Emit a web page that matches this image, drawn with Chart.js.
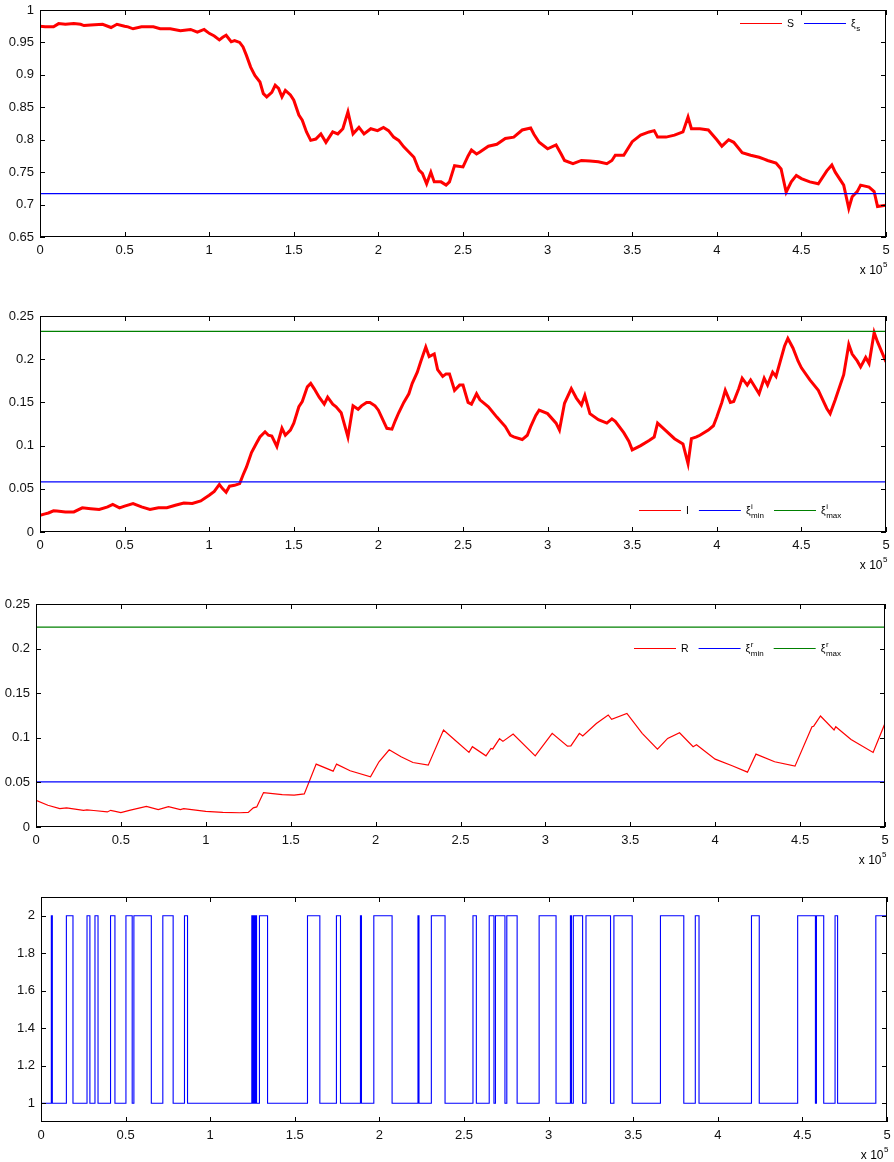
<!DOCTYPE html>
<html>
<head>
<meta charset="utf-8">
<title>SIR regime-switching simulation</title>
<script src="https://cdn.jsdelivr.net/npm/chart.js@4.4.1/dist/chart.umd.min.js"></script>
<style>
  html, body { margin: 0; padding: 0; background: #fff; }
  #page { position: relative; width: 894px; height: 1162px; overflow: hidden; }
  .panel { position: absolute; left: 0; width: 894px; }
  canvas { display: block; }
</style>
</head>
<body>
<div id="page">
  <div class="panel" style="top:0px;height:290px"><canvas id="cS" width="894" height="290"></canvas></div>
  <div class="panel" style="top:290px;height:290px"><canvas id="cI" width="894" height="290"></canvas></div>
  <div class="panel" style="top:580px;height:290px"><canvas id="cR" width="894" height="290"></canvas></div>
  <div class="panel" style="top:870px;height:292px"><canvas id="cM" width="894" height="292"></canvas></div>
</div>
<script>
// ---- time axis (units of 10^5) ----
const xTicks = [0, 0.5, 1, 1.5, 2, 2.5, 3, 3.5, 4, 4.5, 5];

// ---- susceptible fraction S ----
const sTime = [0,0.03,0.08,0.11,0.15,0.2,0.24,0.26,0.3,0.37,0.42,0.455,0.5,0.52,0.55,0.6,0.67,0.71,0.77,0.83,0.89,0.93,0.97,1.0,
  1.03,1.06,1.08,1.1,1.13,1.15,1.18,1.2,1.22,1.245,1.27,1.3,1.32,1.34,1.37,1.39,1.41,1.43,1.45,1.48,1.5,1.53,1.55,1.575,1.6,1.63,
  1.66,1.69,1.73,1.76,1.79,1.82,1.85,1.885,1.915,1.955,1.995,2.03,2.06,2.09,2.12,2.15,2.18,2.21,2.24,2.26,2.285,2.31,2.33,2.37,2.4,
  2.42,2.45,2.5,2.53,2.55,2.58,2.6,2.65,2.7,2.75,2.8,2.85,2.9,2.92,2.95,3.0,3.05,3.08,3.1,3.15,3.2,3.25,3.3,3.35,3.38,3.4,3.45,
  3.5,3.55,3.6,3.63,3.65,3.7,3.75,3.8,3.83,3.85,3.9,3.95,4.0,4.03,4.07,4.1,4.15,4.2,4.25,4.28,4.3,4.35,4.38,4.41,4.44,4.47,4.5,
  4.55,4.6,4.65,4.68,4.7,4.75,4.78,4.8,4.83,4.85,4.9,4.93,4.95,5.0];
const sValues = [0.975,0.974,0.974,0.979,0.978,0.979,0.978,0.976,0.977,0.978,0.973,0.978,0.975,0.974,0.971,0.974,0.974,0.971,0.971,0.968,0.970,0.966,0.970,0.964,
  0.960,0.954,0.958,0.961,0.951,0.953,0.950,0.943,0.930,0.912,0.899,0.889,0.871,0.866,0.873,0.884,0.879,0.866,0.876,0.869,0.861,0.838,0.830,0.812,0.799,0.801,
  0.809,0.796,0.812,0.809,0.817,0.843,0.809,0.819,0.809,0.817,0.814,0.819,0.814,0.804,0.799,0.789,0.781,0.773,0.753,0.748,0.732,0.750,0.735,0.735,0.730,
  0.735,0.760,0.758,0.775,0.784,0.778,0.781,0.790,0.793,0.802,0.804,0.815,0.818,0.808,0.796,0.786,0.792,0.778,0.768,0.763,0.768,0.767,0.766,0.763,0.768,0.776,0.776,
  0.797,0.807,0.812,0.814,0.804,0.804,0.807,0.812,0.835,0.817,0.817,0.815,0.800,0.790,0.800,0.796,0.780,0.776,0.773,0.770,0.768,0.764,0.755,0.719,0.735,0.745,0.740,
  0.735,0.732,0.752,0.761,0.750,0.730,0.694,0.712,0.720,0.730,0.727,0.720,0.697,0.699];
const xiS = 0.717;
const sTicks = [0.65, 0.7, 0.75, 0.8, 0.85, 0.9, 0.95, 1];

// ---- infected fraction I ----
const iTime = [0,0.03,0.05,0.08,0.1,0.15,0.2,0.25,0.3,0.35,0.4,0.43,0.47,0.5,0.55,0.6,0.65,0.7,0.75,0.8,0.85,0.9,0.95,1.0,
  1.03,1.06,1.08,1.1,1.12,1.15,1.18,1.2,1.22,1.25,1.28,1.3,1.33,1.35,1.37,1.4,1.43,1.45,1.48,1.5,1.53,1.55,1.58,1.6,1.62,1.65,
  1.68,1.7,1.73,1.75,1.78,1.8,1.82,1.85,1.88,1.9,1.93,1.95,1.98,2.0,2.05,2.08,2.1,2.12,2.15,2.18,2.2,2.23,2.25,2.28,2.3,2.33,
  2.35,2.38,2.4,2.42,2.45,2.48,2.5,2.53,2.55,2.58,2.6,2.65,2.7,2.75,2.78,2.8,2.85,2.88,2.9,2.93,2.95,3.0,3.05,3.07,3.1,3.14,
  3.17,3.2,3.22,3.25,3.3,3.35,3.38,3.4,3.45,3.48,3.5,3.53,3.55,3.6,3.63,3.65,3.7,3.75,3.8,3.83,3.85,3.88,3.9,3.95,3.98,4.0,
  4.03,4.05,4.08,4.1,4.13,4.15,4.18,4.2,4.25,4.28,4.3,4.33,4.35,4.4,4.42,4.45,4.48,4.5,4.55,4.6,4.65,4.67,4.7,4.75,4.78,4.8,
  4.83,4.85,4.88,4.9,4.93,4.95,5.0];
const iValues = [0.0193,0.021,0.022,0.0245,0.0243,0.0232,0.0232,0.028,0.027,0.026,0.029,0.032,0.028,0.030,0.033,0.029,0.026,0.028,0.028,0.031,0.0336,0.033,0.036,0.0425,
  0.047,0.055,0.050,0.046,0.053,0.054,0.056,0.066,0.075,0.092,0.103,0.110,0.116,0.112,0.111,0.099,0.120,0.112,0.118,0.126,0.145,0.151,0.168,0.172,0.166,0.156,
  0.148,0.156,0.148,0.145,0.138,0.124,0.110,0.146,0.142,0.146,0.150,0.150,0.146,0.141,0.120,0.119,0.129,0.138,0.150,0.160,0.172,0.185,0.197,0.214,0.203,0.206,
  0.188,0.180,0.183,0.183,0.164,0.170,0.170,0.150,0.148,0.160,0.153,0.145,0.133,0.122,0.112,0.110,0.107,0.112,0.122,0.135,0.141,0.137,0.126,0.118,0.149,0.166,
  0.155,0.147,0.158,0.137,0.130,0.126,0.131,0.128,0.115,0.105,0.095,0.098,0.100,0.106,0.110,0.126,0.117,0.108,0.102,0.079,0.108,0.110,0.112,0.118,0.123,0.133,
  0.150,0.164,0.150,0.151,0.166,0.178,0.170,0.176,0.160,0.178,0.170,0.185,0.180,0.215,0.224,0.213,0.198,0.190,0.176,0.164,0.143,0.137,0.153,0.182,0.217,0.206,
  0.198,0.191,0.202,0.195,0.231,0.220,0.197];
const xiIMin = 0.058;
const xiIMax = 0.2322;
const iTicks = [0, 0.05, 0.1, 0.15, 0.2, 0.25];

// ---- recovered fraction R ----
const rTime = [0,0.07,0.14,0.18,0.28,0.3,0.34,0.42,0.44,0.5,0.55,0.65,0.72,0.78,0.85,0.87,1.0,1.1,1.2,1.25,1.28,1.3,1.34,1.45,1.52,1.58,
  1.65,1.75,1.77,1.85,1.97,2.02,2.08,2.15,2.22,2.31,2.4,2.47,2.55,2.57,2.65,2.68,2.69,2.73,2.75,2.81,2.94,3.04,3.13,3.15,3.2,3.22,
  3.3,3.37,3.39,3.48,3.57,3.66,3.72,3.79,3.87,3.89,4.0,4.1,4.19,4.24,4.35,4.47,4.57,4.58,4.62,4.7,4.71,4.8,4.93,5.0];
const rValues = [0.030,0.0244,0.0206,0.0214,0.0187,0.0192,0.0185,0.0169,0.0187,0.0161,0.0187,0.0232,0.0195,0.0229,0.0195,0.0206,0.0176,0.0163,0.0160,0.0163,0.0214,0.0225,0.0386,0.0364,0.0358,0.0371,
  0.0705,0.0626,0.0705,0.0630,0.0562,0.0731,0.0866,0.0787,0.0723,0.0693,0.1087,0.0970,0.0836,0.0900,0.0798,0.0881,0.0875,0.0990,0.0960,0.1042,0.0798,0.1050,0.0907,0.0910,0.1050,0.1020,
  0.1160,0.1256,0.1207,0.1274,0.1050,0.0873,0.0993,0.1057,0.0900,0.0922,0.0761,0.0686,0.0615,0.0817,0.0731,0.0682,0.1124,0.1130,0.1244,0.1087,0.1124,0.0982,0.0836,0.1162];
const xiRMin = 0.0506;
const xiRMax = 0.2241;
const rTicks = [0, 0.05, 0.1, 0.15, 0.2, 0.25];

// ---- Markov regime (state switches at the listed times) ----
const regimeTimes = [0,0.061,0.067,0.150,0.189,0.272,0.289,0.319,0.337,0.411,0.437,0.502,0.539,0.549,0.652,0.720,0.781,0.848,0.866,
  1.246,1.252,1.258,1.262,1.268,1.274,1.291,1.339,1.575,1.648,1.746,1.770,1.888,1.894,1.967,2.075,2.228,2.234,2.307,2.388,
  2.553,2.573,2.649,2.677,2.686,2.742,2.753,2.814,2.944,3.044,3.129,3.135,3.146,3.201,3.221,3.366,3.386,3.494,3.661,3.799,
  3.867,3.889,4.199,4.245,4.472,4.577,4.583,4.626,4.693,4.708,4.934,5.0];
const regimeStates = [1,2,1,2,1,2,1,2,1,2,1,2,1,2,1,2,1,2,1,
  2,1,2,1,2,1,2,1,2,1,2,1,2,1,2,1,2,1,2,1,
  2,1,2,1,2,1,2,1,2,1,2,1,2,1,2,1,2,1,2,1,
  2,1,2,1,2,1,2,1,2,1,2,2];
const mTicks = [1, 1.2, 1.4, 1.6, 1.8, 2];

// ---- drawing helpers ----
const FONT = '"Liberation Sans", Arial, Helvetica, sans-serif';
const RED = '#ff0000', BLUE = '#0000ff', GREEN = '#008000';

const pts = (xs, ys) => xs.map((x, k) => ({ x, y: ys[k] }));
const flat = v => [{ x: 0, y: v }, { x: 5, y: v }];
const fmt = v => String(Number(v.toFixed(4)));

// legend layout per canvas (kept outside the chart option resolver)
const legends = {
  cS: { x: 740, y: 23, items: [
    { label: 'S', color: RED },
    { label: 'ξ', sub: 's', color: BLUE }
  ] },
  cI: { x: 639, y: 220, items: [
    { label: 'I', color: RED },
    { label: 'ξ', sup: 'i', sub: 'min', color: BLUE },
    { label: 'ξ', sup: 'i', sub: 'max', color: GREEN }
  ] },
  cR: { x: 634, y: 68, items: [
    { label: 'R', color: RED },
    { label: 'ξ', sup: 'r', sub: 'min', color: BLUE },
    { label: 'ξ', sup: 'r', sub: 'max', color: GREEN }
  ] }
};

// Box, inward tick marks, exponent note and legend, drawn over the data
const matlabFrame = {
  id: 'matlabFrame',
  afterDraw(chart) {
    const { ctx, chartArea: a, scales: { x, y } } = chart;
    ctx.save();
    ctx.strokeStyle = '#000';
    ctx.lineWidth = 1;
    ctx.beginPath();
    x.ticks.forEach(t => {
      const p = Math.round(x.getPixelForValue(t.value)) + 0.5;
      ctx.moveTo(p, a.bottom); ctx.lineTo(p, a.bottom - 5);
      ctx.moveTo(p, a.top); ctx.lineTo(p, a.top + 5);
    });
    y.ticks.forEach(t => {
      const p = Math.round(y.getPixelForValue(t.value)) + 0.5;
      ctx.moveTo(a.left, p); ctx.lineTo(a.left + 5, p);
      ctx.moveTo(a.right, p); ctx.lineTo(a.right - 5, p);
    });
    ctx.stroke();
    ctx.strokeRect(Math.round(a.left) + 0.5, Math.round(a.top) + 0.5,
                   Math.round(a.right - a.left) - 1, Math.round(a.bottom - a.top) - 1);

    // "x 10^5" multiplier under the time axis
    ctx.fillStyle = '#000';
    ctx.textBaseline = 'alphabetic';
    ctx.textAlign = 'right';
    ctx.font = '12px ' + FONT;
    ctx.fillText('x 10', a.right - 3.5, a.bottom + 37);
    ctx.textAlign = 'left';
    ctx.font = '8px ' + FONT;
    ctx.fillText('5', a.right - 3, a.bottom + 30);

    // legend
    const lg = legends[chart.canvas.id];
    if (lg) {
      let cx = lg.x;
      const cy = lg.y;
      lg.items.forEach(it => {
        ctx.strokeStyle = it.color;
        ctx.lineWidth = 1.2;
        ctx.beginPath();
        ctx.moveTo(cx, cy + 0.5); ctx.lineTo(cx + 42, cy + 0.5);
        ctx.stroke();
        cx += 47;
        ctx.fillStyle = '#000';
        ctx.font = '10.5px ' + FONT;
        ctx.fillText(it.label, cx, cy + 4);
        const w = ctx.measureText(it.label).width;
        let extra = 0;
        ctx.font = '8px ' + FONT;
        if (it.sup) {
          ctx.fillText(it.sup, cx + w + 0.5, cy - 1);
          extra = Math.max(extra, ctx.measureText(it.sup).width + 0.5);
        }
        if (it.sub) {
          ctx.fillText(it.sub, cx + w + 0.5, cy + 8);
          extra = Math.max(extra, ctx.measureText(it.sub).width + 0.5);
        }
        cx += w + extra + 10;
      });
    }
    ctx.restore();
  }
};

function panel(id, geom, yRange, yTicks, datasets) {
  const canvas = document.getElementById(id);
  const H = canvas.height;
  return new Chart(canvas, {
    type: 'line',
    data: { datasets },
    plugins: [matlabFrame],
    options: {
      responsive: false,
      animation: false,
      devicePixelRatio: 1,
      events: [],
      layout: { padding: { left: 0, right: 894 - geom.right, top: geom.top, bottom: 0 } },
      elements: { point: { radius: 0 }, line: { tension: 0 } },
      plugins: {
        legend: { display: false },
        tooltip: { enabled: false }
      },
      scales: {
        x: {
          type: 'linear', min: 0, max: 5,
          grid: { display: false, drawTicks: false },
          border: { display: false },
          afterBuildTicks: s => { s.ticks = xTicks.map(v => ({ value: v })); },
          afterFit: s => { s.height = H - geom.bottom; s.paddingLeft = 0; s.paddingRight = 0; },
          ticks: { padding: 6, color: '#111', font: { family: FONT, size: 13 },
                   maxRotation: 0, autoSkip: false, callback: v => fmt(v) }
        },
        y: {
          type: 'linear', min: yRange[0], max: yRange[1],
          grid: { display: false, drawTicks: false },
          border: { display: false },
          afterBuildTicks: s => { s.ticks = yTicks.map(v => ({ value: v })); },
          afterFit: s => { s.width = geom.left; s.paddingTop = 0; s.paddingBottom = 0; },
          ticks: { padding: 6, color: '#111', font: { family: FONT, size: 13 },
                   autoSkip: false, callback: v => fmt(v) }
        }
      }
    }
  });
}

// S panel
panel('cS', { left: 40, right: 886, top: 10, bottom: 237 }, [0.65, 1], sTicks, [
  { data: flat(xiS), borderColor: BLUE, borderWidth: 1.2, order: 1 },
  { data: pts(sTime, sValues), borderColor: RED, borderWidth: 3, order: 2 }
]);

// I panel
panel('cI', { left: 40, right: 886, top: 26, bottom: 242 }, [0, 0.25], iTicks, [
  { data: flat(xiIMin), borderColor: BLUE, borderWidth: 1.2, order: 1 },
  { data: flat(xiIMax), borderColor: GREEN, borderWidth: 1.2, order: 1 },
  { data: pts(iTime, iValues), borderColor: RED, borderWidth: 3, order: 2 }
]);

// R panel
panel('cR', { left: 36, right: 885, top: 24, bottom: 247 }, [0, 0.25], rTicks, [
  { data: flat(xiRMin), borderColor: BLUE, borderWidth: 1.2, order: 1 },
  { data: flat(xiRMax), borderColor: GREEN, borderWidth: 1.2, order: 1 },
  { data: pts(rTime, rValues), borderColor: RED, borderWidth: 1.2, order: 2 }
]);

// regime panel
panel('cM', { left: 41, right: 887, top: 27, bottom: 252 }, [0.9, 2.1], mTicks, [
  { data: pts(regimeTimes, regimeStates), borderColor: BLUE, borderWidth: 1.1, stepped: true }
]);
</script>
</body>
</html>
